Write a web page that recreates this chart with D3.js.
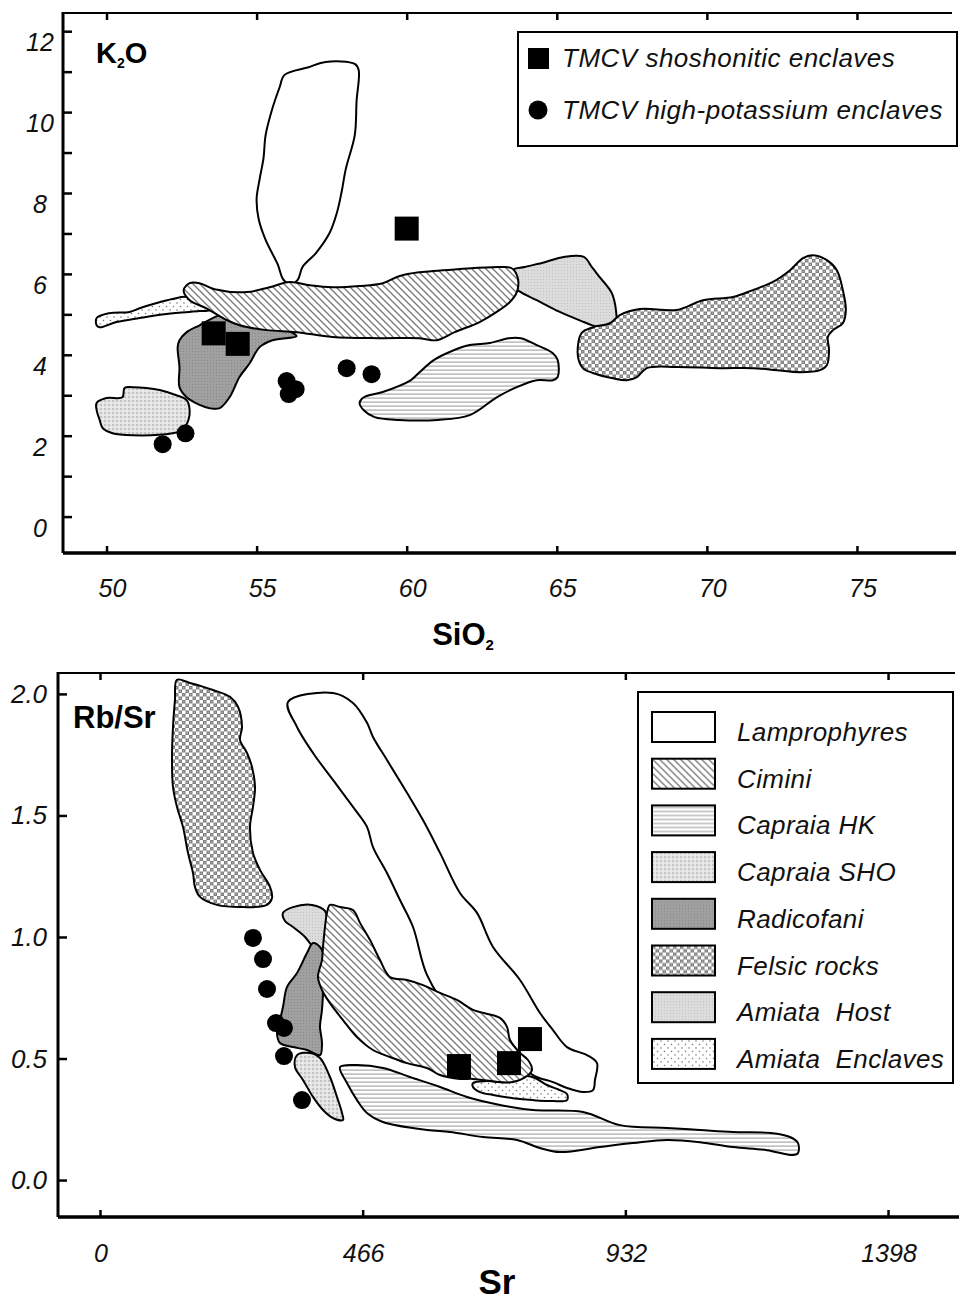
<!DOCTYPE html>
<html>
<head>
<meta charset="utf-8">
<script src="https://cdn.jsdelivr.net/npm/d3@7"></script>
<style>
body { margin: 0; background: #fff; }
svg { display: block; font-family: "Liberation Sans", Arial, Helvetica, sans-serif; }
.tlab { font-style: italic; font-size: 25px; fill: #111; }
.leg { font-style: italic; fill: #111; }
</style>
</head>
<body>
<script>
// ---------- upper panel: K2O vs SiO2 ----------
var sio2Ticks = [50, 55, 60, 65, 70, 75];
var k2oTicks = [0, 1, 2, 3, 4, 5, 6, 7, 8, 9, 10, 11, 12];
var k2oLabels = [0, 2, 4, 6, 8, 10, 12];

var k2oLamprophyres = [[55.93,10.92],[56.73,11.11],[57.30,11.24],[58.27,11.19],[58.40,11.04],[58.33,10.27],[58.27,9.43],[57.97,8.59],[57.83,8.02],[57.67,7.50],[57.43,7.01],[56.97,6.51],[56.53,6.17],[56.37,5.85],[56.17,5.75],[55.90,5.85],[55.70,6.24],[55.30,6.84],[55.07,7.35],[55.00,7.85],[55.10,8.34],[55.23,8.86],[55.30,9.43],[55.53,10.10],[55.77,10.62]];
var k2oCimini = [[52.57,5.60],[52.77,5.77],[53.10,5.77],[53.60,5.62],[54.67,5.55],[55.43,5.67],[56.10,5.80],[56.77,5.72],[57.53,5.67],[58.43,5.70],[59.20,5.77],[59.77,5.95],[60.43,6.04],[61.77,6.12],[63.10,6.17],[63.50,6.14],[63.70,5.90],[63.67,5.55],[63.43,5.30],[63.00,5.06],[62.43,4.81],[61.60,4.56],[61.00,4.36],[60.43,4.41],[59.10,4.41],[57.53,4.44],[56.33,4.56],[55.33,4.61],[54.43,4.73],[54.00,4.86],[53.33,5.15],[52.77,5.35]];
var k2oAmiataEnclaves = [[49.67,4.73],[49.67,4.91],[50.10,5.03],[50.77,5.06],[51.10,5.15],[51.67,5.28],[52.20,5.38],[52.67,5.43],[53.10,5.30],[53.53,5.11],[53.10,5.08],[52.00,5.01],[51.10,4.91],[50.33,4.81],[49.77,4.68]];
var k2oRadicofani = [[52.37,4.19],[52.43,4.36],[52.67,4.56],[53.10,4.73],[53.77,4.98],[54.43,5.06],[56.20,4.54],[56.33,4.46],[55.53,4.36],[55.10,4.19],[54.77,3.79],[54.43,3.45],[54.10,2.95],[53.77,2.68],[53.43,2.68],[53.10,2.76],[52.67,2.95],[52.43,3.20],[52.43,3.70]];
var k2oCapraiaSHO = [[49.67,2.81],[50.00,2.93],[50.53,2.95],[50.60,3.18],[50.87,3.20],[51.33,3.18],[51.77,3.13],[52.33,3.00],[52.67,2.88],[52.77,2.63],[52.73,2.39],[52.53,2.14],[52.20,2.06],[50.87,2.01],[50.20,2.06],[49.87,2.19],[49.77,2.39],[49.67,2.63]];
var k2oCapraiaHK = [[58.43,2.81],[58.57,2.95],[59.20,3.08],[60.13,3.37],[60.40,3.55],[60.90,3.87],[61.43,4.07],[62.10,4.24],[62.77,4.29],[63.40,4.41],[63.80,4.41],[64.33,4.24],[64.87,4.04],[65.03,3.87],[65.03,3.45],[64.87,3.37],[64.33,3.37],[63.67,3.20],[63.00,2.95],[62.10,2.51],[61.03,2.39],[59.73,2.39],[58.93,2.46],[58.57,2.63]];
var k2oAmiataHost = [[63.53,6.09],[63.93,6.17],[64.60,6.29],[65.23,6.42],[65.90,6.42],[66.17,6.17],[66.43,5.92],[66.83,5.53],[66.97,5.11],[66.97,4.68],[66.77,4.56],[66.43,4.66],[65.90,4.81],[65.10,5.06],[64.33,5.35],[63.80,5.55],[63.60,5.67]];
var k2oFelsic = [[65.70,3.99],[65.83,4.54],[66.20,4.68],[66.77,4.78],[67.10,4.98],[67.77,5.13],[69.00,5.11],[69.87,5.35],[70.87,5.43],[71.53,5.60],[72.20,5.80],[72.77,6.09],[73.20,6.39],[73.53,6.46],[74.00,6.34],[74.33,6.09],[74.53,5.60],[74.63,5.11],[74.53,4.78],[74.20,4.61],[74.03,4.44],[74.07,4.12],[74.00,3.75],[73.77,3.62],[73.10,3.57],[72.33,3.62],[71.53,3.67],[70.43,3.67],[69.00,3.70],[68.00,3.67],[67.67,3.45],[67.33,3.37],[66.87,3.42],[66.20,3.55],[65.87,3.67]];

var k2oShoshonitic = [[53.57,4.53],[54.37,4.27],[60.0,7.12]];
var k2oHighK = [[51.87,1.79],[52.63,2.06],[56.00,3.35],[56.30,3.15],[56.07,3.03],[58.00,3.67],[58.83,3.52]];

// ---------- lower panel: Rb/Sr vs Sr ----------
var srTicks = [0, 466, 932, 1398];
var rbsrTicks = [0.0, 0.5, 1.0, 1.5, 2.0];

var rbFelsic = [[136.6,2.058],[159.7,2.045],[200.5,2.016],[230.6,1.988],[244.8,1.947],[251.9,1.864],[248.4,1.811],[260.8,1.757],[269.6,1.700],[275.0,1.617],[271.4,1.535],[266.1,1.453],[271.4,1.346],[283.8,1.276],[301.6,1.206],[305.1,1.160],[296.3,1.132],[248.4,1.123],[207.6,1.132],[177.4,1.165],[168.5,1.206],[165.0,1.263],[156.1,1.346],[147.2,1.453],[136.6,1.535],[129.5,1.617],[127.7,1.728],[129.5,1.864],[133.0,1.975]];
var rbLamprophyres = [[333.5,1.967],[413.3,2.004],[448.8,1.963],[473.7,1.881],[484.3,1.823],[509.1,1.728],[544.6,1.593],[573.0,1.481],[603.2,1.346],[638.6,1.181],[668.8,1.099],[697.2,0.959],[745.1,0.823],[780.6,0.687],[803.6,0.617],[828.5,0.547],[863.9,0.514],[881.7,0.481],[878.1,0.412],[874.6,0.370],[856.8,0.362],[828.5,0.379],[803.6,0.403],[768.1,0.432],[709.6,0.556],[620.9,0.700],[580.1,0.844],[555.3,1.041],[532.2,1.152],[509.1,1.263],[484.3,1.370],[473.7,1.453],[448.8,1.535],[413.3,1.646],[377.9,1.757],[349.5,1.864]];
var rbCimini = [[408.0,1.132],[425.8,1.123],[448.8,1.111],[461.2,1.058],[479.0,0.988],[496.7,0.905],[514.5,0.835],[544.6,0.823],[573.0,0.802],[603.2,0.770],[633.3,0.741],[661.7,0.700],[709.6,0.667],[722.0,0.630],[727.3,0.576],[745.1,0.523],[759.3,0.494],[766.4,0.453],[757.5,0.428],[732.7,0.403],[709.6,0.403],[661.7,0.416],[638.6,0.416],[603.2,0.432],[580.1,0.461],[544.6,0.481],[514.5,0.506],[484.3,0.535],[455.9,0.588],[431.1,0.658],[408.0,0.728],[393.8,0.782],[386.7,0.835],[393.8,0.905],[395.6,0.959],[399.1,1.041],[402.7,1.099]];
var rbAmiataHost = [[324.6,1.099],[342.4,1.123],[376.1,1.132],[399.1,1.107],[402.7,1.049],[393.8,0.934],[377.9,0.959],[363.7,1.000],[342.4,1.041],[328.2,1.066]];
var rbRadicofani = [[377.9,0.975],[367.2,0.934],[349.5,0.852],[331.7,0.794],[324.6,0.712],[319.3,0.658],[314.0,0.605],[319.3,0.564],[342.4,0.547],[367.2,0.535],[390.3,0.514],[393.8,0.564],[390.3,0.630],[393.8,0.700],[395.6,0.782],[393.8,0.835],[395.6,0.934],[390.3,0.959]];
var rbCapraiaSHO = [[349.5,0.514],[372.5,0.523],[390.3,0.502],[408.0,0.424],[420.4,0.342],[429.3,0.276],[431.1,0.247],[413.3,0.255],[395.6,0.288],[377.9,0.342],[360.1,0.412],[345.9,0.465]];
var rbCapraiaHK = [[425.8,0.465],[455.9,0.473],[502.0,0.461],[549.9,0.424],[603.2,0.383],[651.1,0.342],[709.6,0.309],[768.1,0.288],[856.8,0.280],[922.5,0.226],[1005.9,0.214],[1064.4,0.206],[1122.9,0.198],[1193.9,0.193],[1224.1,0.177],[1238.3,0.152],[1238.3,0.111],[1229.4,0.103],[1183.3,0.123],[1122.9,0.136],[1064.4,0.156],[1005.9,0.165],[945.5,0.152],[887.0,0.136],[816.0,0.115],[780.6,0.132],[739.7,0.165],[679.4,0.177],[620.9,0.198],[580.1,0.206],[502.0,0.239],[473.7,0.276],[455.9,0.329],[438.2,0.399]];
var rbAmiataEnclaves = [[661.7,0.399],[686.5,0.407],[722.0,0.403],[757.5,0.428],[771.7,0.420],[793.0,0.391],[816.0,0.370],[828.5,0.354],[828.5,0.329],[803.6,0.325],[768.1,0.329],[732.7,0.337],[697.2,0.350],[674.1,0.362],[661.7,0.383]];

var rbShoshonitic = [[636.9,0.469],[725.6,0.481],[762.8,0.580]];
var rbHighK = [[271.4,0.996],[289.2,0.909],[296.3,0.786],[312.2,0.646],[326.4,0.626],[326.4,0.510],[358.3,0.329]];

var pointLegend = ['TMCV shoshonitic enclaves', 'TMCV high-potassium enclaves'];
var fieldLegend = ['Lamprophyres', 'Cimini', 'Capraia HK', 'Capraia SHO', 'Radicofani', 'Felsic rocks', 'Amiata  Host', 'Amiata  Enclaves'];
var fieldFill = ['#fff', 'url(#p-cimini)', 'url(#p-hk)', 'url(#p-sho)', 'url(#p-rad)', 'url(#p-felsic)', 'url(#p-host)', 'url(#p-encl)'];

var svg = d3.select('body').append('svg')
    .attr('width', 964)
    .attr('height', 1300);

// fill patterns
var defs = svg.append('defs');
var p;
p = defs.append('pattern').attr('id', 'p-cimini').attr('patternUnits', 'userSpaceOnUse').attr('width', 7).attr('height', 7);
p.append('rect').attr('width', 7).attr('height', 7).attr('fill', '#fff');
p.append('path').attr('d', 'M-2,-2L9,9M-2,5L2,9M5,-2L9,2').attr('stroke', '#777').attr('stroke-width', 1.3);

p = defs.append('pattern').attr('id', 'p-hk').attr('patternUnits', 'userSpaceOnUse').attr('width', 4).attr('height', 4);
p.append('rect').attr('width', 4).attr('height', 4).attr('fill', '#fff');
p.append('rect').attr('y', 1.5).attr('width', 4).attr('height', 1.2).attr('fill', '#a8a8a8');

p = defs.append('pattern').attr('id', 'p-sho').attr('patternUnits', 'userSpaceOnUse').attr('width', 4).attr('height', 4);
p.append('rect').attr('width', 4).attr('height', 4).attr('fill', '#e4e4e4');
p.append('circle').attr('cx', 1).attr('cy', 1).attr('r', 0.8).attr('fill', '#999');
p.append('circle').attr('cx', 3).attr('cy', 3).attr('r', 0.6).attr('fill', '#fff');

p = defs.append('pattern').attr('id', 'p-rad').attr('patternUnits', 'userSpaceOnUse').attr('width', 3).attr('height', 3);
p.append('rect').attr('width', 3).attr('height', 3).attr('fill', '#a0a0a0');
p.append('rect').attr('width', 1).attr('height', 1).attr('fill', '#888');

p = defs.append('pattern').attr('id', 'p-felsic').attr('patternUnits', 'userSpaceOnUse').attr('width', 7).attr('height', 7);
p.append('rect').attr('width', 7).attr('height', 7).attr('fill', '#fff');
p.append('rect').attr('width', 3.5).attr('height', 3.5).attr('fill', '#7d7d7d');
p.append('rect').attr('x', 3.5).attr('y', 3.5).attr('width', 3.5).attr('height', 3.5).attr('fill', '#7d7d7d');
p.append('rect').attr('x', 1.2).attr('y', 1.2).attr('width', 1.1).attr('height', 1.1).attr('fill', '#ccc');
p.append('rect').attr('x', 4.7).attr('y', 4.7).attr('width', 1.1).attr('height', 1.1).attr('fill', '#ccc');

p = defs.append('pattern').attr('id', 'p-host').attr('patternUnits', 'userSpaceOnUse').attr('width', 3).attr('height', 3);
p.append('rect').attr('width', 3).attr('height', 3).attr('fill', '#dcdcdc');
p.append('rect').attr('width', 1).attr('height', 1).attr('fill', '#c2c2c2');

p = defs.append('pattern').attr('id', 'p-encl').attr('patternUnits', 'userSpaceOnUse').attr('width', 7).attr('height', 7);
p.append('rect').attr('width', 7).attr('height', 7).attr('fill', '#fff');
p.append('circle').attr('cx', 2).attr('cy', 2).attr('r', 0.8).attr('fill', '#777');
p.append('circle').attr('cx', 5.5).attr('cy', 5.5).attr('r', 0.8).attr('fill', '#777');

function drawFields(x, y, fields) {
  var line = d3.line()
      .x(function(d) { return x(d[0]); })
      .y(function(d) { return y(d[1]); })
      .curve(d3.curveCatmullRomClosed.alpha(0.5));
  svg.append('g').selectAll('path')
      .data(fields)
    .enter().append('path')
      .attr('d', function(d) { return line(d.pts); })
      .attr('fill', function(d) { return d.fill; })
      .attr('stroke', '#000')
      .attr('stroke-width', 2)
      .attr('stroke-linejoin', 'round');
}

function drawPoints(x, y, squares, dots) {
  svg.append('g').selectAll('circle')
      .data(dots)
    .enter().append('circle')
      .attr('cx', function(d) { return x(d[0]); })
      .attr('cy', function(d) { return y(d[1]); })
      .attr('r', 9)
      .attr('fill', '#000');
  svg.append('g').selectAll('rect')
      .data(squares)
    .enter().append('rect')
      .attr('x', function(d) { return x(d[0]) - 12; })
      .attr('y', function(d) { return y(d[1]) - 12; })
      .attr('width', 24)
      .attr('height', 24)
      .attr('fill', '#000');
}

function styleTicks(g) {
  g.select('.domain').remove();
  g.selectAll('.tick line').attr('stroke', '#000').attr('stroke-width', 2.5);
}

function drawFrame(x, y, xTicks, yTicks, xEnd) {
  var x0 = x.range()[0], yb = y.range()[0], yt = y.range()[1];
  svg.append('g').attr('transform', 'translate(0,' + yb + ')')
      .call(d3.axisTop(x).tickValues(xTicks).tickSize(7).tickFormat(''))
      .call(styleTicks);
  svg.append('g').attr('transform', 'translate(0,' + yt + ')')
      .call(d3.axisBottom(x).tickValues(xTicks).tickSize(7).tickFormat(''))
      .call(styleTicks);
  svg.append('g').attr('transform', 'translate(' + x0 + ',0)')
      .call(d3.axisRight(y).tickValues(yTicks).tickSize(9).tickFormat(''))
      .call(styleTicks);
  svg.append('line').attr('x1', x0).attr('x2', xEnd).attr('y1', yt).attr('y2', yt)
      .attr('stroke', '#000').attr('stroke-width', 2);
  svg.append('line').attr('x1', x0).attr('x2', xEnd + 4).attr('y1', yb).attr('y2', yb)
      .attr('stroke', '#000').attr('stroke-width', 3.5);
  svg.append('line').attr('x1', x0).attr('x2', x0).attr('y1', yt - 1).attr('y2', yb)
      .attr('stroke', '#000').attr('stroke-width', 3);
}

// ===== upper panel =====
var x1 = d3.scaleLinear().domain([48.55, 78.1]).range([63, 950]);
var y1 = d3.scaleLinear().domain([-0.9, 12.45]).range([553, 13]);

drawFields(x1, y1, [
  { pts: k2oLamprophyres, fill: '#fff' },
  { pts: k2oAmiataHost, fill: 'url(#p-host)' },
  { pts: k2oFelsic, fill: 'url(#p-felsic)' },
  { pts: k2oCapraiaHK, fill: 'url(#p-hk)' },
  { pts: k2oCapraiaSHO, fill: 'url(#p-sho)' },
  { pts: k2oAmiataEnclaves, fill: 'url(#p-encl)' },
  { pts: k2oRadicofani, fill: 'url(#p-rad)' },
  { pts: k2oCimini, fill: 'url(#p-cimini)' }
]);
drawPoints(x1, y1, k2oShoshonitic, k2oHighK);
drawFrame(x1, y1, sio2Ticks, k2oTicks, 952);

svg.append('g').selectAll('text')
    .data(sio2Ticks)
  .enter().append('text')
    .attr('class', 'tlab')
    .attr('x', function(d) { return x1(d) + 6; })
    .attr('y', 597)
    .attr('text-anchor', 'middle')
    .text(function(d) { return d; });
svg.append('g').selectAll('text')
    .data(k2oLabels)
  .enter().append('text')
    .attr('class', 'tlab')
    .attr('x', 40)
    .attr('y', function(d) { return y1(d) + 20; })
    .attr('text-anchor', 'middle')
    .text(function(d) { return d; });

var t = svg.append('text').attr('x', 463).attr('y', 645).attr('text-anchor', 'middle')
    .style('font-weight', 'bold').style('font-size', '31px');
t.append('tspan').text('SiO');
t.append('tspan').attr('dy', 5).style('font-size', '15px').text('2');

t = svg.append('text').attr('x', 96).attr('y', 63)
    .style('font-weight', 'bold').style('font-size', '29px');
t.append('tspan').text('K');
t.append('tspan').attr('dy', 5).style('font-size', '14px').text('2');
t.append('tspan').attr('dy', -5).text('O');

// point legend
svg.append('rect').attr('x', 518).attr('y', 32).attr('width', 439).attr('height', 114)
    .attr('fill', '#fff').attr('stroke', '#000').attr('stroke-width', 2);
svg.append('rect').attr('x', 528).attr('y', 48).attr('width', 21).attr('height', 21).attr('fill', '#000');
svg.append('circle').attr('cx', 538).attr('cy', 110).attr('r', 9.5).attr('fill', '#000');
svg.append('g').selectAll('text')
    .data(pointLegend)
  .enter().append('text')
    .attr('class', 'leg')
    .attr('x', 562)
    .attr('y', function(d, i) { return 67 + i * 52; })
    .style('font-size', '26px')
    .style('letter-spacing', '0.5px')
    .text(function(d) { return d; });

// ===== lower panel =====
var x2 = d3.scaleLinear().domain([-74.5, 1516.8]).range([58, 955]);
var y2 = d3.scaleLinear().domain([-0.152, 2.086]).range([1217, 673]);

drawFields(x2, y2, [
  { pts: rbFelsic, fill: 'url(#p-felsic)' },
  { pts: rbLamprophyres, fill: '#fff' },
  { pts: rbCapraiaHK, fill: 'url(#p-hk)' },
  { pts: rbAmiataEnclaves, fill: 'url(#p-encl)' },
  { pts: rbAmiataHost, fill: 'url(#p-host)' },
  { pts: rbRadicofani, fill: 'url(#p-rad)' },
  { pts: rbCimini, fill: 'url(#p-cimini)' },
  { pts: rbCapraiaSHO, fill: 'url(#p-sho)' }
]);
drawPoints(x2, y2, rbShoshonitic, rbHighK);
drawFrame(x2, y2, srTicks, rbsrTicks, 955);

svg.append('g').selectAll('text')
    .data(srTicks)
  .enter().append('text')
    .attr('class', 'tlab')
    .attr('x', function(d) { return x2(d) + 1; })
    .attr('y', 1262)
    .attr('text-anchor', 'middle')
    .text(function(d) { return d; });
svg.append('g').selectAll('text')
    .data(rbsrTicks)
  .enter().append('text')
    .attr('class', 'tlab')
    .attr('x', 29)
    .attr('y', function(d) { return y2(d) + 9; })
    .attr('text-anchor', 'middle')
    .style('font-size', '26px')
    .text(function(d) { return d3.format('.1f')(d); });

svg.append('text').attr('x', 497).attr('y', 1294).attr('text-anchor', 'middle')
    .style('font-weight', 'bold').style('font-size', '35px').text('Sr');
svg.append('text').attr('x', 73).attr('y', 728)
    .style('font-weight', 'bold').style('font-size', '31px').text('Rb/Sr');

// field legend
svg.append('rect').attr('x', 638).attr('y', 692).attr('width', 315).attr('height', 391)
    .attr('fill', '#fff').attr('stroke', '#000').attr('stroke-width', 2);
var leg = svg.append('g').selectAll('g')
    .data(fieldLegend)
  .enter().append('g')
    .attr('transform', function(d, i) { return 'translate(652,' + (712 + i * 46.7) + ')'; });
leg.append('rect')
    .attr('width', 63)
    .attr('height', 30)
    .attr('fill', function(d, i) { return fieldFill[i]; })
    .attr('stroke', '#000')
    .attr('stroke-width', 2);
leg.append('text')
    .attr('class', 'leg')
    .attr('x', 85)
    .attr('y', 29)
    .style('font-size', '26px')
    .style('letter-spacing', '0.4px')
    .style('white-space', 'pre')
    .text(function(d) { return d; });
</script>
</body>
</html>
